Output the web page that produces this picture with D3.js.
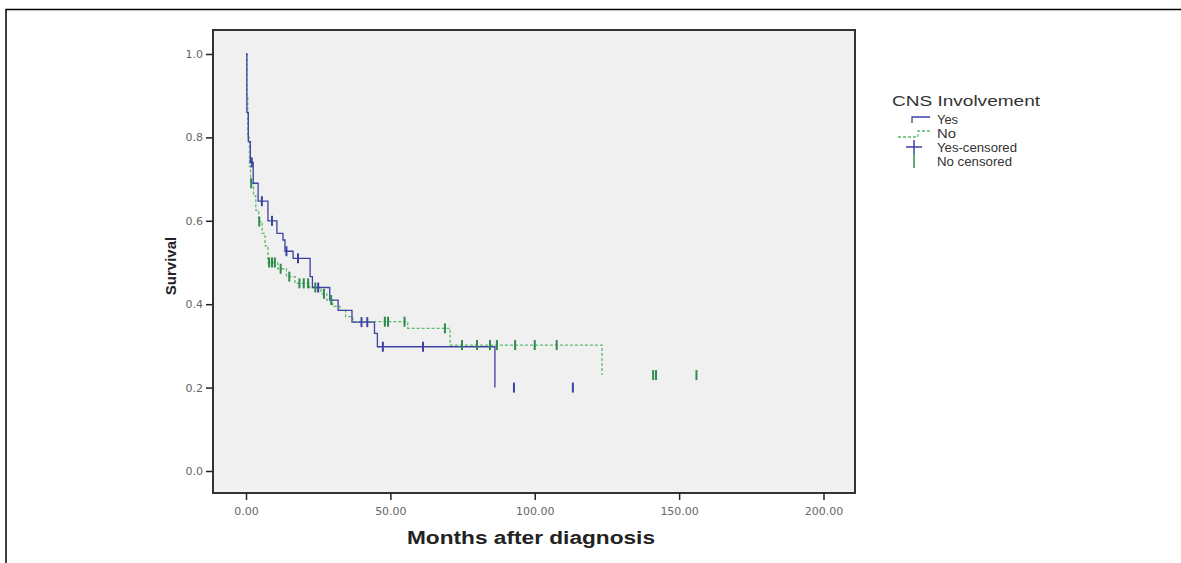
<!DOCTYPE html>
<html>
<head>
<meta charset="utf-8">
<script src="https://cdn.jsdelivr.net/npm/d3@7"></script>
<style>
  body { margin: 0; background: #fff; }
  text { font-family: "Liberation Sans", Arial, sans-serif; }
</style>
</head>
<body>
<div></div>
<script>
var width = 1181;
var height = 563;

// Kaplan-Meier steps: months, survival
var yesTimes = [0, 0.3, 0.8, 1.5, 2.5, 4.2, 7.6, 10.7, 12.8, 13.5, 16.3, 22.2, 23, 29, 31.9, 36.7, 44.5, 45.5, 86.2];
var yesSurv  = [1.0, 0.86, 0.79, 0.74, 0.69, 0.647, 0.6, 0.57, 0.554, 0.527, 0.51, 0.466, 0.44, 0.41, 0.385, 0.357, 0.33, 0.298, 0.2];
var noTimes = [0, 0.3, 0.6, 1.2, 1.6, 2.6, 3.4, 4.4, 5.6, 6.6, 7.6, 11, 14, 17, 22, 26, 28, 30, 32.5, 34.5, 37, 56, 70.7, 123.3];
var noSurv  = [1.0, 0.9, 0.8, 0.73, 0.69, 0.66, 0.625, 0.598, 0.57, 0.54, 0.5, 0.485, 0.466, 0.45, 0.44, 0.425, 0.41, 0.395, 0.385, 0.37, 0.358, 0.342, 0.302, 0.23];

// censored times
var yesCensored = [2, 5.5, 9, 14, 18, 25, 40, 42, 47.4, 61.3, 92.8, 113.2];
var noCensored = [1.8, 4.6, 8, 9, 10, 12, 15, 18.5, 20, 21.5, 24, 27, 29.5, 48.1, 49.2, 54.9, 68.9, 74.8, 80, 84.5, 86.9, 93.2, 100, 107.6, 141, 142, 156];

var xTicks = [0, 50, 100, 150, 200];
var yTicks = [0, 0.2, 0.4, 0.6, 0.8, 1.0];
var legendLabels = ["Yes", "No", "Yes-censored", "No censored"];

var blue = "#3e42a0";
var green = "#5cbb6c";
var greenDark = "#2f8a4e";

var plotLeft = 213, plotTop = 30, plotRight = 855, plotBottom = 493;

var x = d3.scaleLinear().domain([0, 200]).range([246, 823.5]);
var y = d3.scaleLinear().domain([0, 1]).range([471, 54]);

var svg = d3.select("div")
	.append("svg")
	.attr("width", width)
	.attr("height", height);

// page frame
svg.append("path")
	.attr("d", "M6,563V9.5H1181")
	.attr("fill", "none")
	.attr("stroke", "#000")
	.attr("stroke-width", 1.5);

svg.append("rect")
	.attr("x", plotLeft)
	.attr("y", plotTop)
	.attr("width", plotRight - plotLeft)
	.attr("height", plotBottom - plotTop)
	.attr("fill", "#f0f0f0")
	.attr("stroke", "#333")
	.attr("stroke-width", 2);

// axes
var xAxis = d3.axisBottom(x)
	.tickValues(xTicks)
	.tickSize(7)
	.tickFormat(d3.format(".2f"));
var yAxis = d3.axisLeft(y)
	.tickValues(yTicks)
	.tickSize(7)
	.tickFormat(d3.format(".1f"));

var gx = svg.append("g")
	.attr("transform", "translate(0," + plotBottom + ")")
	.call(xAxis);
var gy = svg.append("g")
	.attr("transform", "translate(" + plotLeft + ",0)")
	.call(yAxis);

[gx, gy].forEach(function(g) {
	g.select(".domain").remove();
	g.selectAll(".tick line").attr("stroke", "#222").attr("stroke-width", 1.5);
	g.selectAll(".tick text")
		.attr("fill", "#666")
		.style("font-size", "11px")
		.style("font-family", "'DejaVu Sans', sans-serif");
});
gx.selectAll(".tick text").attr("dy", "1.1em");

svg.append("text")
	.attr("x", 531)
	.attr("y", 544)
	.attr("text-anchor", "middle")
	.attr("textLength", 248)
	.attr("lengthAdjust", "spacingAndGlyphs")
	.style("font-size", "18px")
	.style("font-weight", "bold")
	.attr("fill", "#222")
	.text("Months after diagnosis");

svg.append("text")
	.attr("transform", "translate(176,266) rotate(-90)")
	.attr("text-anchor", "middle")
	.style("font-size", "15px")
	.style("font-weight", "bold")
	.attr("fill", "#222")
	.text("Survival");

function stepValue(times, surv, t) {
	var v = surv[0];
	for (var i = 0; i < times.length; i++) {
		if (times[i] <= t) v = surv[i];
	}
	return v;
}

var line = d3.line()
	.x(function(d) { return x(d[0]); })
	.y(function(d) { return y(d[1]); })
	.curve(d3.curveStepAfter);

var plot = svg.append("g");

plot.append("path")
	.datum(noTimes.map(function(t, i) { return [t, noSurv[i]]; }))
	.attr("d", line)
	.attr("fill", "none")
	.attr("stroke", green)
	.attr("stroke-width", 1.3)
	.attr("stroke-dasharray", "3,2");

plot.append("path")
	.datum(yesTimes.map(function(t, i) { return [t, yesSurv[i]]; }))
	.attr("d", line)
	.attr("fill", "none")
	.attr("stroke", blue)
	.attr("stroke-width", 1.3);

plot.selectAll(".cy")
	.data(yesCensored)
	.enter().append("line")
	.attr("class", "cy")
	.attr("x1", function(d) { return x(d); })
	.attr("x2", function(d) { return x(d); })
	.attr("y1", function(d) { return y(stepValue(yesTimes, yesSurv, d)) - 5; })
	.attr("y2", function(d) { return y(stepValue(yesTimes, yesSurv, d)) + 5; })
	.attr("stroke", blue)
	.attr("stroke-width", 2);

plot.selectAll(".cn")
	.data(noCensored)
	.enter().append("line")
	.attr("class", "cn")
	.attr("x1", function(d) { return x(d); })
	.attr("x2", function(d) { return x(d); })
	.attr("y1", function(d) { return y(stepValue(noTimes, noSurv, d)) - 5; })
	.attr("y2", function(d) { return y(stepValue(noTimes, noSurv, d)) + 5; })
	.attr("stroke", greenDark)
	.attr("stroke-width", 2);

// legend
var lg = svg.append("g").attr("transform", "translate(892,0)");
lg.append("text")
	.attr("x", 0)
	.attr("y", 106)
	.attr("textLength", 148)
	.attr("lengthAdjust", "spacingAndGlyphs")
	.style("font-size", "14px")
	.attr("fill", "#333")
	.text("CNS Involvement");

var legendWidths = [21, 19, 80, 75];
var rowY = [119, 133, 147, 161];
lg.selectAll(".lt")
	.data(legendLabels)
	.enter().append("text")
	.attr("x", 45)
	.attr("y", function(d, i) { return rowY[i] + 4.5; })
	.attr("textLength", function(d, i) { return legendWidths[i]; })
	.attr("lengthAdjust", "spacingAndGlyphs")
	.style("font-size", "12.5px")
	.attr("fill", "#333")
	.text(function(d) { return d; });

lg.append("path")
	.attr("d", "M20," + (rowY[0] + 4) + "V" + (rowY[0] - 2) + "H38")
	.attr("fill", "none").attr("stroke", blue).attr("stroke-width", 1.3);
lg.append("path")
	.attr("d", "M6," + (rowY[1] + 4) + "H26V" + (rowY[1] - 2) + "H38")
	.attr("fill", "none").attr("stroke", green).attr("stroke-width", 1.3)
	.attr("stroke-dasharray", "3,2");
lg.append("path")
	.attr("d", "M14," + rowY[2] + "H30M22," + (rowY[2] - 7) + "V" + (rowY[2] + 7))
	.attr("fill", "none").attr("stroke", blue).attr("stroke-width", 1.5);
lg.append("path")
	.attr("d", "M22," + (rowY[3] - 7) + "V" + (rowY[3] + 7))
	.attr("fill", "none").attr("stroke", greenDark).attr("stroke-width", 1.5);
</script>
</body>
</html>
